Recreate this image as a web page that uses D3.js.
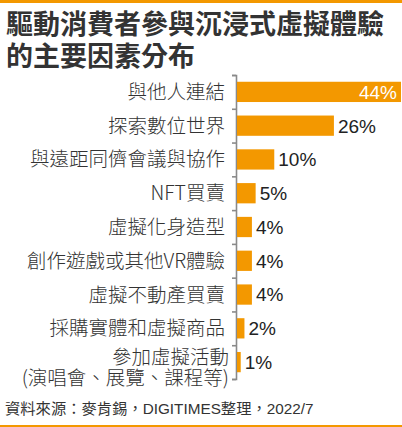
<!DOCTYPE html>
<html>
<head>
<meta charset="utf-8">
<script src="https://cdn.jsdelivr.net/npm/d3@7"></script>
<style>
  body { margin: 0; background: #fff; }
  svg { display: block; }
</style>
</head>
<body>
<svg id="chart"></svg>
<script>
// data
var titleLines = ["驅動消費者參與沉浸式虛擬體驗", "的主要因素分布"];
var categories = ["與他人連結", "探索數位世界", "與遠距同儕會議與協作", "NFT買賣", "虛擬化身造型",
    "創作遊戲或其他VR體驗", "虛擬不動產買賣", "採購實體和虛擬商品", "參加虛擬活動\n(演唱會、展覽、課程等)"];
var values = [44, 26, 10, 5, 4, 4, 4, 2, 1];
var sourceText = "資料來源：麥肯錫，DIGITIMES整理，2022/7";

var width = 402, height = 427;
var orange = "#f39800";
var cjk = "'Noto Sans CJK TC', 'Noto Sans CJK SC', sans-serif";
var latin = "'Liberation Sans', Arial, 'Noto Sans CJK TC', sans-serif";

var svg = d3.select("#chart")
    .attr("width", width)
    .attr("height", height);

// top + bottom rules
svg.append("rect").attr("x", 0).attr("y", 0).attr("width", width).attr("height", 3).attr("fill", orange);
svg.append("rect").attr("x", 0).attr("y", 425).attr("width", width).attr("height", 2).attr("fill", orange);

// title
svg.selectAll("text.title")
    .data(titleLines)
    .enter()
    .append("text")
    .attr("class", "title")
    .attr("x", 6)
    .attr("y", function(d, i) { return 34 + i * 32; })
    .text(function(d) { return d; })
    .attr("fill", "#333")
    .attr("font-family", cjk)
    .attr("font-weight", "bold")
    .attr("font-size", 27);

var axisTop = 75, axisBottom = 379, axisX = 236;

var y = d3.scaleBand()
    .domain(categories)
    .range([axisTop, axisBottom])
    .paddingInner(0.4)
    .paddingOuter(0.2);

var x = d3.scaleLinear()
    .domain([0, 44])
    .range([axisX + 1, 401]);

// axis with ticks between the categories
var tickScale = d3.scaleLinear()
    .domain([0, categories.length])
    .range([axisTop, axisBottom]);

var axisG = svg.append("g")
    .attr("transform", "translate(" + axisX + ",0)")
    .call(d3.axisLeft(tickScale)
        .ticks(categories.length)
        .tickSize(4)
        .tickSizeOuter(4)
        .tickFormat(""));
axisG.selectAll("path, line")
    .attr("stroke", "#8a8a8a")
    .attr("stroke-width", 1.6);

// bars
svg.selectAll("rect.bar")
    .data(values)
    .enter()
    .append("rect")
    .attr("class", "bar")
    .attr("x", x(0))
    .attr("y", function(d, i) { return y(categories[i]); })
    .attr("width", function(d) { return x(d) - x(0); })
    .attr("height", y.bandwidth())
    .attr("fill", orange);

// value labels
var maxVal = d3.max(values);
svg.selectAll("text.val")
    .data(values)
    .enter()
    .append("text")
    .attr("class", "val")
    .attr("x", function(d) { return d == maxVal ? x(d) - 4 : x(d) + 4; })
    .attr("y", function(d, i) { return y(categories[i]) + y.bandwidth() / 2; })
    .attr("dy", "0.36em")
    .attr("text-anchor", function(d) { return d == maxVal ? "end" : "start"; })
    .text(function(d) { return d + "%"; })
    .attr("fill", function(d) { return d == maxVal ? "#fff" : "#222"; })
    .attr("font-family", latin)
    .attr("font-size", 19);

// category labels
var catG = svg.selectAll("text.cat")
    .data(categories)
    .enter()
    .append("text")
    .attr("class", "cat")
    .attr("text-anchor", "end")
    .attr("fill", "#333")
    .attr("font-family", cjk)
    .attr("font-weight", 300)
    .attr("font-size", 19.5);

catG.each(function(d) {
    var lines = d.split("\n");
    var cy = y(d) + y.bandwidth() / 2 + (lines.length > 1 ? 5 : 0);
    var t = d3.select(this);
    lines.forEach(function(line, j) {
        t.append("tspan")
            .attr("x", lines.length > 1 ? 229 : 225)
            .attr("y", cy + (j - (lines.length - 1) / 2) * 21)
            .attr("dy", "0.36em")
            .text(line);
    });
});

// source
svg.append("text")
    .attr("x", 5)
    .attr("y", 414)
    .text(sourceText)
    .attr("fill", "#333")
    .attr("font-family", latin)
    .attr("font-size", 15.3);
</script>
</body>
</html>
